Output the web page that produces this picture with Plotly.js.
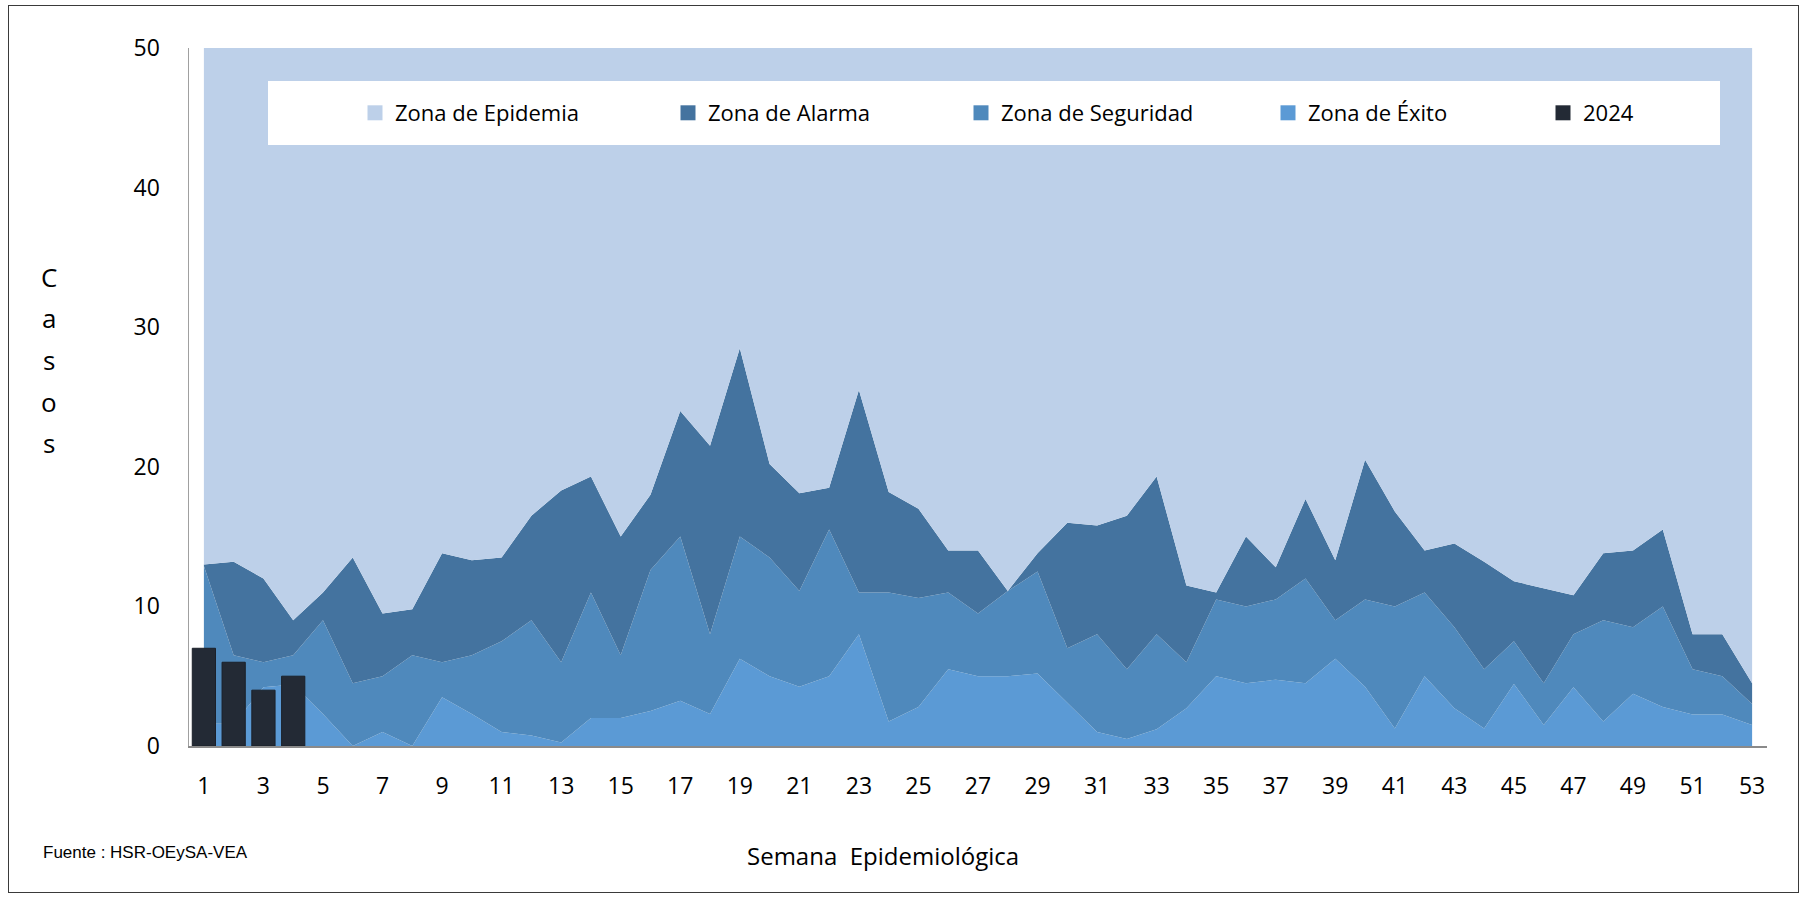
<!DOCTYPE html>
<html>
<head>
<meta charset="utf-8">
<script src="https://cdn.plot.ly/plotly-3.0.1.min.js"></script>
<style>
  html, body { margin: 0; padding: 0; background: #ffffff; }
  #chart { width: 1805px; height: 899px; }
  #frame { position: absolute; left: 8px; top: 5px; width: 1789px; height: 886px; border: 1.5px solid #3a3a3a; pointer-events: none; }
</style>
</head>
<body>
<div id="chart"></div>
<div id="frame"></div>
<script>
// Epidemiological weeks
const weeks = [1,2,3,4,5,6,7,8,9,10,11,12,13,14,15,16,17,18,19,20,21,22,23,24,25,26,27,28,29,30,31,32,33,34,35,36,37,38,39,40,41,42,43,44,45,46,47,48,49,50,51,52,53];

// Upper boundary of each channel zone (cases)
const exitoTop = [1.6,1.6,4.2,4.4,2.3,0,1.0,0,3.5,2.3,1.0,0.75,0.25,2.0,2.0,2.5,3.25,2.3,6.25,5.0,4.25,5.0,8.0,1.75,2.8,5.5,5.0,5.0,5.2,3.1,1.0,0.5,1.2,2.7,5.0,4.5,4.75,4.5,6.25,4.25,1.25,5.0,2.7,1.25,4.45,1.5,4.2,1.75,3.75,2.8,2.25,2.25,1.5];
const seguridadTop = [12.9,6.5,6.0,6.5,9.0,4.5,5.0,6.5,6.0,6.5,7.5,9.0,6.0,11.0,6.5,12.6,15.0,8.0,15.0,13.5,11.1,15.5,11.0,11.0,10.6,11.0,9.5,11.1,12.5,7.0,8.0,5.5,8.0,6.0,10.5,10.0,10.5,12.0,9.0,10.5,10.0,11.0,8.5,5.5,7.5,4.5,8.0,9.0,8.5,10.0,5.5,5.0,3.0];
const alarmaTop = [13.0,13.2,12.0,9.0,11.0,13.5,9.5,9.8,13.8,13.3,13.5,16.5,18.3,19.3,15.0,18.0,24.0,21.5,28.5,20.2,18.1,18.5,25.5,18.2,17.0,14.0,14.0,11.1,13.8,16.0,15.8,16.5,19.3,11.5,11.0,15.0,12.8,17.7,13.3,20.5,16.8,14.0,14.5,13.2,11.8,11.3,10.8,13.8,14.0,15.5,8.0,8.0,4.5];
const epidemiaTop = [50,50,50,50,50,50,50,50,50,50,50,50,50,50,50,50,50,50,50,50,50,50,50,50,50,50,50,50,50,50,50,50,50,50,50,50,50,50,50,50,50,50,50,50,50,50,50,50,50,50,50,50,50];

// 2024 observed cases
const weeks2024 = [1,2,3,4];
const cases2024 = [7,6,4,5];

// Tick labels
const xTicks = [1,3,5,7,9,11,13,15,17,19,21,23,25,27,29,31,33,35,37,39,41,43,45,47,49,51,53];
const yTicks = [0,10,20,30,40,50];

const legendNames = ['Zona de Epidemia','Zona de Alarma','Zona de Seguridad','Zona de Éxito','2024'];
const yTitleLetters = ['C','a','s','o','s'];

const C_EPI = '#bdd0e9', C_ALA = '#44739f', C_SEG = '#4f89bc', C_EXI = '#5b9ad5', C_2024 = '#232a35';
const FONT = 'Open Sans, Noto Sans, sans-serif';

function area(y, fill, color) {
  return { type: 'scatter', x: weeks, y: y, mode: 'lines', line: { width: 0, color: color },
           fill: fill, fillcolor: color, showlegend: false, hoverinfo: 'skip' };
}
function legendItem(name, color, rank, w) {
  return { type: 'scatter', x: [null], y: [null], mode: 'markers', name: name,
           marker: { symbol: 'square', size: 15, color: color, line: { width: 0 } },
           legendrank: rank, legendwidth: w, hoverinfo: 'skip' };
}

const traces = [
  area(exitoTop, 'tozeroy', C_EXI),
  area(seguridadTop, 'tonexty', C_SEG),
  area(alarmaTop, 'tonexty', C_ALA),
  area(epidemiaTop, 'tonexty', C_EPI),
  { type: 'bar', x: weeks2024, y: cases2024, xaxis: 'x2', yaxis: 'y', width: 0.78,
    marker: { color: C_2024, line: { color: '#1b2029', width: 1 } }, showlegend: false, hoverinfo: 'skip' },
  legendItem(legendNames[0], C_EPI, 1, 268),
  legendItem(legendNames[1], C_ALA, 2, 248),
  legendItem(legendNames[2], C_SEG, 3, 262),
  legendItem(legendNames[3], C_EXI, 4, 230),
  legendItem(legendNames[4], C_2024, 5, 80)
];

const L = 189, R = 38, T = 48, B = 153, W = 1805, H = 899;
const pw = W - L - R, ph = H - T - B;
const px2x = p => (p - L) / pw;
const px2y = p => 1 - (p - T) / ph;

const annotations = yTitleLetters.map((ch, i) => ({
  text: ch, xref: 'paper', yref: 'paper', x: px2x(49), y: px2y(277 + i * 41.5),
  xanchor: 'center', yanchor: 'middle', showarrow: false,
  font: { family: FONT, size: 26, color: '#000' }
}));
annotations.push({
  text: 'Semana  Epidemiológica', xref: 'paper', yref: 'paper', x: px2x(883), y: px2y(855),
  xanchor: 'center', yanchor: 'middle', showarrow: false,
  font: { family: FONT, size: 24, color: '#000' }
});
annotations.push({
  text: 'Fuente : HSR-OEySA-VEA', xref: 'paper', yref: 'paper', x: px2x(41), y: px2y(852),
  xanchor: 'left', yanchor: 'middle', showarrow: false,
  font: { family: 'Liberation Sans Narrow, Liberation Sans, Arial, sans-serif', size: 17, color: '#000' }
});

const layout = {
  width: W, height: H,
  margin: { l: L, r: R, t: T, b: B, pad: 0 },
  paper_bgcolor: '#ffffff', plot_bgcolor: '#ffffff',
  showlegend: true,
  barmode: 'overlay',
  xaxis: {
    range: [0.5, 53.5], tickvals: xTicks, ticktext: xTicks.map(String),
    showgrid: false, zeroline: false, showline: true, linecolor: '#8a8a8a', linewidth: 1.5,
    ticks: 'outside', ticklen: 19, tickcolor: 'rgba(0,0,0,0)',
    tickfont: { family: FONT, size: 23, color: '#000' }, fixedrange: true
  },
  xaxis2: { range: [0.5, 53.5], overlaying: 'x', visible: false, fixedrange: true },
  yaxis: {
    range: [0, 50], tickvals: yTicks, ticktext: yTicks.map(String),
    showgrid: false, zeroline: false, showline: true, linecolor: '#a0a0a0', linewidth: 1.5,
    ticks: 'outside', ticklen: 23, tickcolor: 'rgba(0,0,0,0)',
    tickfont: { family: FONT, size: 23, color: '#000' }, fixedrange: true
  },
  legend: {
    orientation: 'h', x: px2x(355), y: px2y(113), xanchor: 'left', yanchor: 'middle',
    bgcolor: 'rgba(0,0,0,0)', borderwidth: 0,
    font: { family: FONT, size: 22, color: '#000' }, traceorder: 'normal'
  },
  shapes: [{
    type: 'rect', xref: 'paper', yref: 'paper', layer: 'above',
    x0: px2x(268), x1: px2x(1720), y0: px2y(145), y1: px2y(81),
    fillcolor: '#ffffff', line: { width: 0 }
  }],
  annotations: annotations,
  hovermode: false
};

Plotly.newPlot('chart', traces, layout, { staticPlot: true, displayModeBar: false });
</script>
</body>
</html>
